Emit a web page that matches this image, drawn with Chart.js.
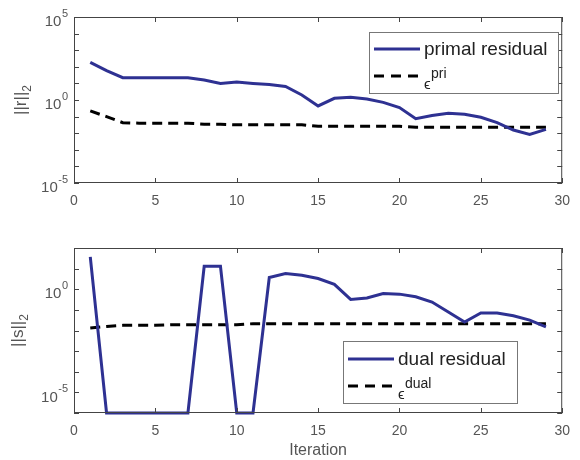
<!DOCTYPE html>
<html>
<head>
<meta charset="utf-8">
<script src="https://cdn.jsdelivr.net/npm/chart.js@4"></script>
<style>
  body { margin: 0; background: #fff; }
  canvas { position: absolute; left: 0; }
  #top { top: 0; }
  #bottom { top: 230px; }
</style>
</head>
<body>
<canvas id="top" width="580" height="230"></canvas>
<canvas id="bottom" width="580" height="230"></canvas>
<script>
// --- data ---
const iterations = [1,2,3,4,5,6,7,8,9,10,11,12,13,14,15,16,17,18,19,20,21,22,23,24,25,26,27,28,29];
const primalResidual = [186, 59, 22, 22, 22, 22, 22, 16, 10, 12, 10, 8.7, 6.5, 2.0, 0.44, 1.26, 1.45, 1.15, 0.72, 0.35, 0.074, 0.115, 0.16, 0.14, 0.091, 0.043, 0.0155, 0.0085, 0.017];
const epsPri = [0.22, 0.1, 0.043, 0.04, 0.04, 0.04, 0.04, 0.035, 0.035, 0.032, 0.032, 0.032, 0.032, 0.032, 0.026, 0.026, 0.026, 0.026, 0.026, 0.026, 0.023, 0.023, 0.023, 0.023, 0.023, 0.023, 0.023, 0.023, 0.023];
const dualResidual = [37, 1e-6, 1e-6, 1e-6, 1e-6, 1e-6, 1e-6, 13, 13, 1e-6, 1e-6, 3.7, 5.8, 4.8, 3.3, 1.74, 0.32, 0.38, 0.62, 0.58, 0.43, 0.24, 0.079, 0.026, 0.071, 0.071, 0.052, 0.032, 0.015];
const epsDual = [0.0132, 0.0158, 0.0178, 0.0178, 0.0178, 0.019, 0.019, 0.019, 0.019, 0.019, 0.0214, 0.0214, 0.0214, 0.0214, 0.0214, 0.0214, 0.0214, 0.0214, 0.0214, 0.0214, 0.0214, 0.0214, 0.0214, 0.0214, 0.0214, 0.0214, 0.0214, 0.0214, 0.0214];
const xTicks = [0, 5, 10, 15, 20, 25, 30];

const BLUE = '#2e3192';
const FONT = "'Liberation Sans', Arial, sans-serif";
const AXIS_GREY = '#555';

const toPoints = arr => arr.map((v, i) => ({ x: iterations[i], y: v }));

// MATLAB-ish axes box, inward ticks, superscript tick labels, y title and legend
const matlabAxes = {
  id: 'matlabAxes',
  afterDraw(chart, args, opts) {
    const { ctx, chartArea: a, scales } = chart;
    const xs = scales.x, ys = scales.y;
    ctx.save();
    ctx.strokeStyle = '#444';
    ctx.lineWidth = 1;
    ctx.strokeRect(a.left + 0.5, a.top + 0.5, a.right - a.left - 1, a.bottom - a.top - 1);

    ctx.beginPath();
    xTicks.forEach(t => {
      const px = Math.round(xs.getPixelForValue(t)) + 0.5;
      ctx.moveTo(px, a.bottom); ctx.lineTo(px, a.bottom - 5);
      ctx.moveTo(px, a.top); ctx.lineTo(px, a.top + 5);
    });
    for (let e = opts.minExp; e <= opts.maxExp; e++) {
      const py = Math.round(ys.getPixelForValue(Math.pow(10, e))) + 0.5;
      ctx.moveTo(a.left, py); ctx.lineTo(a.left + 5, py);
      ctx.moveTo(a.right, py); ctx.lineTo(a.right - 5, py);
    }
    ctx.stroke();

    // y tick labels 10^e
    ctx.fillStyle = AXIS_GREY;
    ctx.textAlign = 'right';
    ctx.textBaseline = 'middle';
    opts.labelExps.forEach(e => {
      const py = ys.getPixelForValue(Math.pow(10, e));
      const exp = String(e);
      ctx.font = '11px ' + FONT;
      const ew = ctx.measureText(exp).width;
      ctx.fillText(exp, 68, py - 3);
      ctx.font = '15px ' + FONT;
      ctx.fillText('10', 68 - ew - 0.5, py + 5);
    });

    // y title ||r||_2
    ctx.save();
    ctx.translate(opts.titleX, (a.top + a.bottom) / 2);
    ctx.rotate(-Math.PI / 2);
    ctx.font = '17px ' + FONT;
    const mw = ctx.measureText(opts.yTitle).width;
    ctx.font = '12px ' + FONT;
    const sw = ctx.measureText('2').width;
    const x0 = -(mw + sw) / 2;
    ctx.textAlign = 'left';
    ctx.font = '17px ' + FONT;
    ctx.fillText(opts.yTitle, x0, 0);
    ctx.font = '12px ' + FONT;
    ctx.fillText('2', x0 + mw, 7);
    ctx.restore();

    // legend
    const L = opts.legend;
    ctx.fillStyle = '#fff';
    ctx.fillRect(L.x, L.y, L.w, L.h);
    ctx.strokeStyle = '#777';
    ctx.strokeRect(L.x + 0.5, L.y + 0.5, L.w, L.h);
    ctx.lineWidth = 3;
    ctx.strokeStyle = BLUE;
    ctx.beginPath();
    ctx.moveTo(L.x + 5, L.y1); ctx.lineTo(L.x + 51, L.y1);
    ctx.stroke();
    ctx.strokeStyle = '#000';
    ctx.setLineDash([10, 7]);
    ctx.beginPath();
    ctx.moveTo(L.x + 5, L.y2); ctx.lineTo(L.x + 51, L.y2);
    ctx.stroke();
    ctx.setLineDash([]);
    ctx.fillStyle = '#222';
    ctx.textAlign = 'left';
    ctx.textBaseline = 'middle';
    ctx.font = '19px ' + FONT;
    ctx.fillText(L.label1, L.x + 55, L.y1 + 1);
    ctx.font = '15px ' + FONT;
    ctx.fillText('\u03f5', L.x + 55, L.y2 + 9);
    ctx.font = '14px ' + FONT;
    ctx.fillText(L.sup, L.x + 62, L.y2 - 2);
    ctx.restore();
  }
};

function makeChart(id, solid, dashed, opts) {
  return new Chart(document.getElementById(id), {
    type: 'line',
    data: {
      datasets: [
        { data: toPoints(solid), borderColor: BLUE, borderWidth: 3, pointRadius: 0, tension: 0, clip: false },
        { data: toPoints(dashed), borderColor: '#000', borderWidth: 3, borderDash: [10, 6], pointRadius: 0, tension: 0 }
      ]
    },
    options: {
      responsive: false,
      animation: false,
      devicePixelRatio: 1,
      layout: { padding: { top: opts.padTop, right: 7, left: 0, bottom: 0 } },
      plugins: { legend: { display: false }, tooltip: { enabled: false }, matlabAxes: opts.axes },
      scales: {
        x: {
          type: 'linear', min: 0, max: 30,
          afterBuildTicks: s => { s.ticks = xTicks.map(v => ({ value: v })); },
          grid: { display: false, drawTicks: false },
          border: { display: false },
          ticks: { color: AXIS_GREY, font: { size: 14, family: FONT }, padding: 10, maxRotation: 0 },
          title: { display: !!opts.xTitle, text: opts.xTitle || '', color: AXIS_GREY, font: { size: 16, family: FONT }, padding: { top: 0, bottom: 0 } },
          afterFit: s => { s.height = 47; }
        },
        y: {
          type: 'logarithmic', min: opts.yMin, max: opts.yMax,
          grid: { display: false, drawTicks: false },
          border: { display: false },
          ticks: { display: false },
          afterFit: s => { s.width = 74; }
        }
      }
    },
    plugins: [matlabAxes]
  });
}

makeChart('top', primalResidual, epsPri, {
  padTop: 17, yMin: 1e-5, yMax: 1e5,
  axes: {
    minExp: -5, maxExp: 5, labelExps: [5, 0, -5], yTitle: '||r||', titleX: 21,
    legend: { x: 369, y: 32, w: 189, h: 61, y1: 49, y2: 76, label1: 'primal residual', sup: 'pri' }
  }
});

makeChart('bottom', dualResidual, epsDual, {
  padTop: 18, yMin: 1e-6, yMax: 1e2, xTitle: 'Iteration',
  axes: {
    minExp: -6, maxExp: 2, labelExps: [0, -5], yTitle: '||s||', titleX: 18,
    legend: { x: 343, y: 111, w: 174, h: 62, y1: 129, y2: 156, label1: 'dual residual', sup: 'dual' }
  }
});
</script>
</body>
</html>
